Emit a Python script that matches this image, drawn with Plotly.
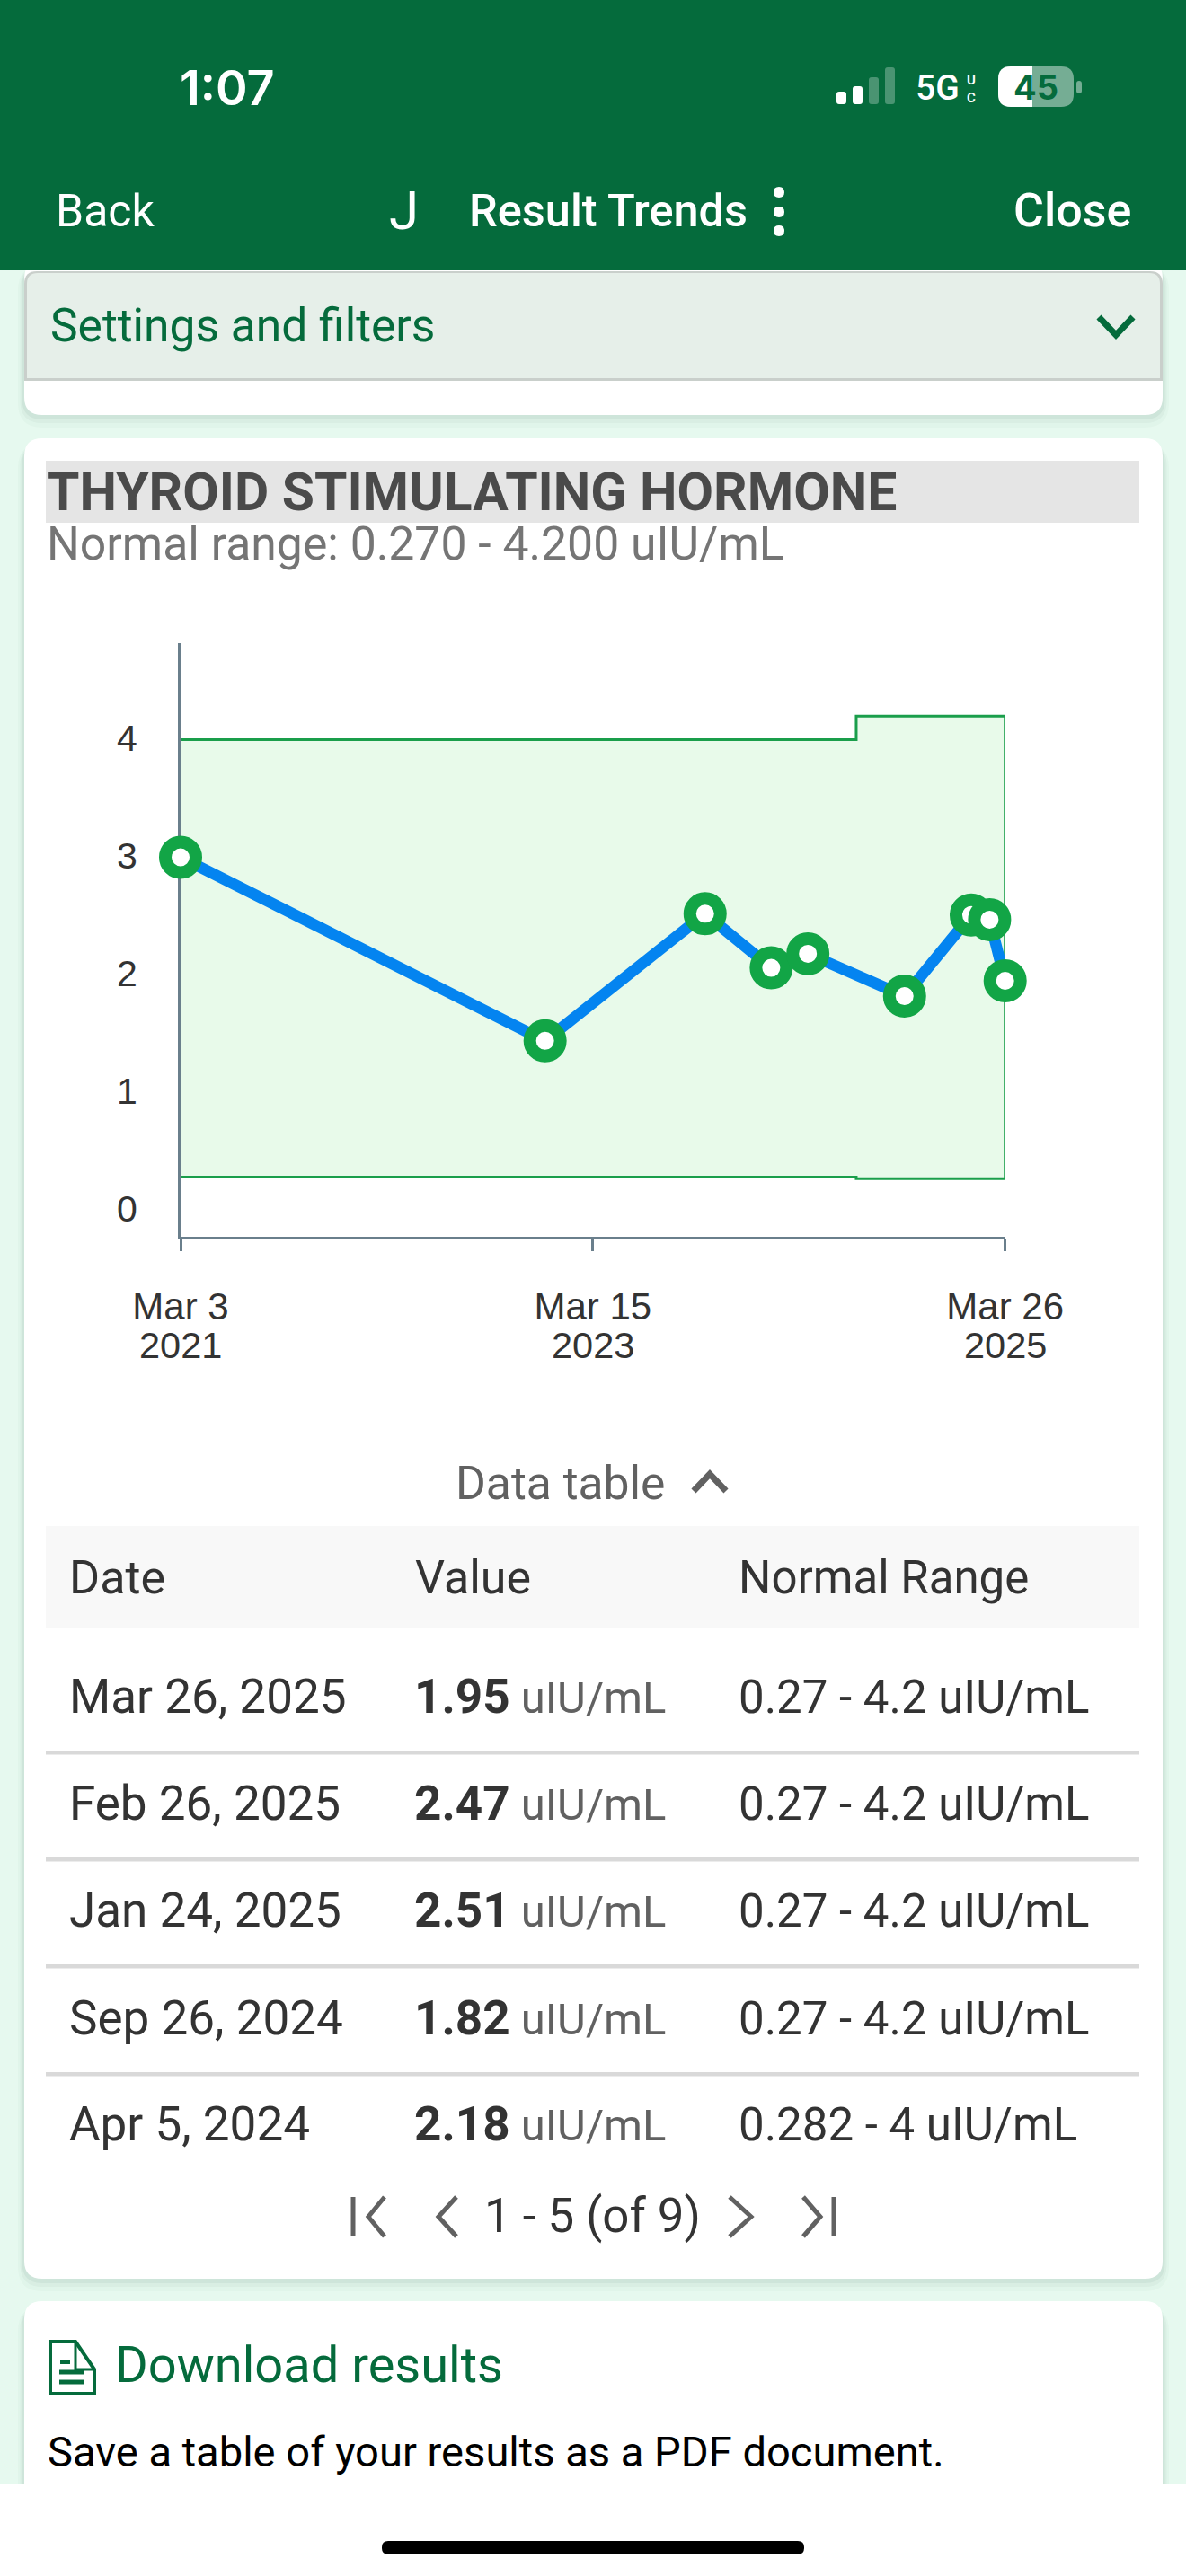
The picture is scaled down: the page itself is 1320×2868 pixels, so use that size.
import plotly.graph_objects as go

W, H = 1320, 2868

# Test history
result_dates = ["2021-03-03", "2022-12-19", "2023-10-03", "2024-01-30", "2024-04-05",
                "2024-09-26", "2025-01-24", "2025-02-26", "2025-03-26"]
result_values = [3.0, 1.44, 2.52, 2.06, 2.18, 1.82, 2.51, 2.47, 1.95]

# Normal range over time
range_dates = ["2021-03-03", "2024-07-01", "2024-07-01", "2025-03-26"]
range_low = [0.282, 0.282, 0.27, 0.27]
range_high = [4, 4, 4.2, 4.2]

# Axes
x_tick_dates = ["2021-03-03", "2023-03-15", "2025-03-26"]
x_tick_days = ["Mar 3", "Mar 15", "Mar 26"]
x_tick_years = ["2021", "2023", "2025"]
y_ticks = [0, 1, 2, 3, 4]

# Data table
table_headers = ["Date", "Value", "Normal Range"]
table_dates = ["Mar 26, 2025", "Feb 26, 2025", "Jan 24, 2025", "Sep 26, 2024", "Apr 5, 2024"]
table_values = ["1.95", "2.47", "2.51", "1.82", "2.18"]
table_ranges = ["0.27 - 4.2 uIU/mL", "0.27 - 4.2 uIU/mL", "0.27 - 4.2 uIU/mL",
                "0.27 - 4.2 uIU/mL", "0.282 - 4 uIU/mL"]

GREEN = "#056b3c"
INK = "#333333"
GREY = "#616161"
UI_FONT = "Roboto"
CHART_FONT = "Liberation Sans"

shapes, notes = [], []


def fx(x):
    return x / W


def fy(y):
    return 1 - y / H


def path(cmds, fill=None, line=None, width=0, cap_layer="below"):
    """cmds: list of (letter, x, y, ...) in screen pixels."""
    out = []
    for c in cmds:
        letter, nums = c[0], c[1:]
        pts = [f"{fx(nums[i]):.5f},{fy(nums[i + 1]):.5f}" for i in range(0, len(nums), 2)]
        out.append(letter + " ".join(pts))
    d = " ".join(out)
    shapes.append(dict(type="path", path=d, xref="paper", yref="paper", layer=cap_layer,
                       fillcolor=fill or "rgba(0,0,0,0)",
                       line=dict(color=line or "rgba(0,0,0,0)", width=width)))


def box(x0, y0, x1, y1, fill, r=0, top=True, bottom=True, line=None, width=0):
    rt = r if top else 0
    rb = r if bottom else 0
    path([("M", x0 + rt, y0), ("L", x1 - rt, y0), ("Q", x1, y0, x1, y0 + rt),
          ("L", x1, y1 - rb), ("Q", x1, y1, x1 - rb, y1), ("L", x0 + rb, y1),
          ("Q", x0, y1, x0, y1 - rb), ("L", x0, y0 + rt), ("Q", x0, y0, x0 + rt, y0), ("Z",)],
         fill=fill, line=line, width=width)


def stroke(points, color, width):
    path([("M", *points[0])] + [("L", *p) for p in points[1:]], line=color, width=width)


def text(x, y, s, size, color=INK, weight=400, anchor="left", family=UI_FONT):
    notes.append(dict(x=fx(x), y=fy(y), xref="paper", yref="paper", text=s, showarrow=False,
                      xanchor=anchor, yanchor="middle", align=anchor, borderpad=0,
                      font=dict(family=family, size=size, color=color, weight=weight)))


def card(x0, y0, x1, y1, r=20, bottom=True):
    for grow, alpha in ((14, 0.025), (9, 0.035), (5, 0.05)):
        box(x0 - grow / 2, y0 + 6, x1 + grow / 2, y1 + grow, f"rgba(20,70,50,{alpha})", r=r + grow / 2)
    box(x0, y0, x1, y1, "#ffffff", r=r, bottom=bottom)


# Page backdrop and cards
box(0, 0, W, H, "#e6f9ef")
card(27, 290, 1294, 462)
card(27, 488, 1294, 2537)
card(27, 2562, 1294, 2800)

# Settings bar
box(27, 302, 1294, 424, "#c9cfcb", r=14, bottom=False)
box(30, 304, 1291, 421, "#e6efe9", r=12, bottom=False)
text(55, 363, "Settings and filters", 51.5, GREEN)
stroke([(1223, 353), (1242, 373), (1261, 353)], GREEN, 7)

# Header bar
box(0, 0, W, 301, GREEN)
text(199, 97, "1:07", 54, "#ffffff", 600, family="Inter")
for x0, top, col in ((931, 102, "#ffffff"), (949, 96, "#ffffff"),
                     (967, 86, "rgba(255,255,255,0.28)"), (985, 75, "rgba(255,255,255,0.28)")):
    box(x0, top, x0 + 11, 116, col, r=3)
text(1018, 98, "5G", 39, "#ffffff", 500)
text(1081, 99, "U<br>C", 15, "#ffffff", 600, anchor="center")
box(1111, 74, 1195, 119, "rgba(255,255,255,0.45)", r=14)
box(1111, 74, 1149, 119, "#ffffff", r=14)
box(1136, 74, 1149, 119, "#ffffff")
box(1198, 90, 1204, 104, "rgba(255,255,255,0.45)", r=3)
text(1153, 97, "45", 38, GREEN, 700, anchor="center", family="Inter")
text(61, 235, "Back", 50, "#ffffff")
text(450, 235, "J", 60, "#ffffff", 400, anchor="center")
text(521, 235, "Result Trends", 50.5, "#ffffff", 500)
for dot_y in (214, 236, 257):
    box(861, dot_y - 6, 873, dot_y + 6, "#ffffff", r=6)
text(1260, 235, "Close", 52, "#ffffff", 500, anchor="right")

# Chart card heading
box(51, 513, 1268, 582, "#e5e5e5")
text(51, 547, "THYROID STIMULATING HORMONE", 58.8, "#4a4a4a", 700)
text(51, 606, "Normal range: 0.270 - 4.200 uIU/mL", 51.7, "#757575")

# Data table
text(506, 1651, "Data table", 51.6, GREY)
stroke([(772, 1660), (790, 1641), (808, 1660)], GREY, 7)
box(51, 1699, 1268, 1812, "#f8f8f8")
for cx, label, size in zip((76, 461, 821), table_headers, (52, 52, 51)):
    text(cx, 1756, label, size, INK)
row_ys = [1889, 2008, 2127, 2247, 2365]
for row_y, d, v, rng in zip(row_ys, table_dates, table_values, table_ranges):
    text(76, row_y, d, 53, INK)
    text(460, row_y,
         f'<span style="font-size:53px;font-weight:700">{v}</span> '
         f'<span style="color:{GREY};font-size:49px">uIU/mL</span>', 49, INK)
    text(821, row_y, rng, 51, INK)
for sep_y in row_ys[:-1]:
    box(51, sep_y + 60, 1268, sep_y + 64.5, "#d9d9d9")

# Pager
stroke([(393, 2446), (393, 2490)], GREY, 5)
stroke([(428, 2446), (410, 2468), (428, 2490)], GREY, 5)
stroke([(508, 2446), (488, 2468), (508, 2490)], GREY, 5)
text(659, 2467, "1 - 5 (of 9)", 52.8, INK, anchor="center")
stroke([(812, 2446), (836, 2468), (812, 2490)], GREY, 5)
stroke([(894, 2446), (913, 2468), (894, 2490)], GREY, 5)
stroke([(928, 2446), (928, 2490)], GREY, 5)

# Download card
path([("M", 56, 2607), ("L", 84, 2607), ("L", 105, 2638), ("L", 105, 2665), ("L", 56, 2665), ("Z",)],
     line=GREEN, width=4)
stroke([(84, 2607), (84, 2638), (105, 2638)], GREEN, 3)
stroke([(67, 2630), (78, 2630)], GREEN, 4)
stroke([(66, 2641), (93, 2641)], GREEN, 5)
stroke([(66, 2652), (93, 2652)], GREEN, 5)
text(127, 2633, "Download results", 56, GREEN)
text(52, 2729, "Save a table of your results as a PDF document.", 47.1, "#000000")

# Bottom bar
box(0, 2766, W, H, "#ffffff")
box(425, 2829, 895, 2844, "#000000", r=7)

# Year line under each date tick
for d, year in zip(x_tick_dates, x_tick_years):
    notes.append(dict(x=d, xref="x", y=fy(1498), yref="paper", text=year, showarrow=False,
                      xanchor="center", yanchor="middle", borderpad=0,
                      font=dict(family=CHART_FONT, size=41.5, color=INK)))

fig = go.Figure()
fig.add_trace(go.Scatter(
    x=range_dates + range_dates[::-1], y=range_high + range_low[::-1],
    mode="none", fill="toself", fillcolor="rgba(0,200,22,0.09)",
    hoverinfo="skip", showlegend=False))
fig.add_trace(go.Scatter(
    x=range_dates + range_dates[::-1], y=range_high + range_low[::-1],
    mode="lines", line=dict(color="#1a9e4b", width=3),
    hoverinfo="skip", showlegend=False))
fig.add_trace(go.Scatter(
    x=result_dates, y=result_values, mode="lines+markers", cliponaxis=False,
    line=dict(color="#0484f0", width=12.5),
    marker=dict(size=34, color="#ffffff", line=dict(color="#12a546", width=14)),
    showlegend=False))

AXIS = "#6a7f8c"
fig.update_layout(
    width=W, height=H, autosize=False,
    margin=dict(l=0, r=0, t=0, b=0),
    paper_bgcolor="#ffffff", plot_bgcolor="rgba(0,0,0,0)",
    shapes=shapes, annotations=notes,
    xaxis=dict(
        type="date", domain=[fx(201), fx(1118.7)], range=[x_tick_dates[0], x_tick_dates[-1]],
        tickmode="array", tickvals=x_tick_dates, ticktext=x_tick_days, tickangle=0,
        automargin=False,
        showgrid=False, zeroline=False, showline=True, linecolor=AXIS, linewidth=3,
        ticks="outside", ticklen=13, tickwidth=3, tickcolor=AXIS, ticklabelstandoff=26,
        tickfont=dict(family=CHART_FONT, size=42, color=INK), fixedrange=True),
    yaxis=dict(
        domain=[fy(1377), fy(716)], range=[-0.225, 4.82],
        tickmode="array", tickvals=y_ticks, ticktext=[str(t) for t in y_ticks],
        automargin=False,
        showgrid=False, zeroline=False, showline=True, linecolor=AXIS, linewidth=3,
        ticks="", ticklabelstandoff=37, ticklabelshift=-2, layer="below traces",
        tickfont=dict(family=CHART_FONT, size=41, color=INK), fixedrange=True),
)

fig.write_html("out.html")
